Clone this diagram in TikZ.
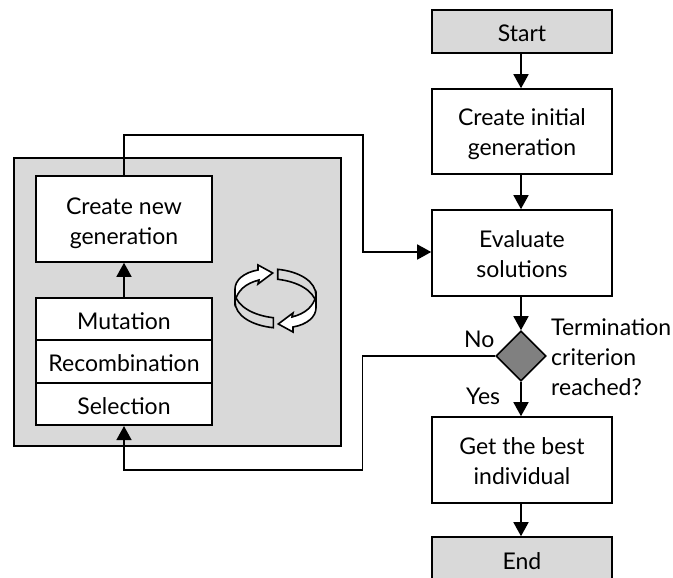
\documentclass[tikz,border=0pt]{standalone}
\usepackage{fontspec}
\setmainfont{Lato}
\usetikzlibrary{arrows.meta,shapes.geometric}
\definecolor{panel}{HTML}{D9D9D9}
\definecolor{dia}{HTML}{808080}
\newcommand\dn[2][-1.5pt]{\raisebox{#1}[\height][\depth]{#2}}
\tikzset{
 every node/.style={font=\fontsize{23}{30}\selectfont},
 boxw/.style={draw=black,line width=1.6pt,fill=white,align=center,minimum width=180pt,minimum height=86pt,inner sep=0pt},
 boxg/.style={boxw,fill=panel},
 boxs/.style={boxw,minimum width=176pt,minimum height=42.5pt},
 conn/.style={line width=1.6pt,-{Triangle[length=14pt,width=15pt]}},
 lbl/.style={inner sep=0pt,align=left},
 arrowpart/.style={draw=black,line width=1.6pt,fill=white,line join=miter},
 bandpart/.style={draw=black,line width=1.6pt,fill=panel}
}
\begin{document}
\begin{tikzpicture}[x=1pt,y=-1pt]
\useasboundingbox (0,0) rectangle (673,578);
\begin{scope}
\clip (0,0) rectangle (673,578);
\node[draw=black,line width=1.6pt,fill=panel,minimum width=327pt,minimum height=288pt,inner sep=0pt] (panelbox) at (177.5,302) {};
\node[boxg,minimum height=43pt] (start) at (522,31.5) {\dn{Start}};
\node[boxw,minimum height=85pt] (init) at (522,131.5) {\dn[-3pt]{Create initial}\\\dn[-3pt]{generation}};
\node[boxw] (eval) at (522,253) {\dn{Evaluate}\\\dn{solutions}};
\node[diamond,aspect=1,draw=black,line width=1.6pt,fill=dia,minimum width=50pt,minimum height=50pt,inner sep=0pt] (dec) at (521,356) {};
\node[boxw] (best) at (522,460) {\dn{Get the best}\\\dn{individual}};
\node[boxg,minimum height=82pt] (end) at (522,578) {};
\node[boxw,minimum width=176pt] (new) at (124,219) {\dn[-4.5pt]{Create new}\\\dn[-4.5pt]{generation}};
\node[boxs] (mut) at (124,319) {\dn[-2pt]{Mutation}};
\node[boxs] (rec) at (124,361.5) {\dn{Recombination}};
\node[boxs] (sel) at (124,404) {\dn[-2pt]{Selection}};
\end{scope}
\node[inner sep=0pt] (endtext) at (522,561) {End};
\coordinate (upR) at (363,135);
\coordinate (upT) at (124,135);
\coordinate (upD) at (363,252);
\coordinate (loR) at (362.5,356);
\coordinate (loD) at (362.5,470);
\coordinate (loL) at (124,470);
\draw[conn] (start.south -| dec) -- (init.north -| dec);
\draw[conn] (init.south -| dec) -- (eval.north -| dec);
\draw[conn] (eval.south -| dec) -- (dec.north);
\draw[conn] (dec.south) -- (best.north -| dec);
\draw[conn] (best.south -| dec) -- (end.north -| dec);
\draw[conn] (mut.north) -- (new.south);
\draw[conn] (new.north) -- (upT) -- (upR) -- (upD) -- (eval.west |- upD);
\draw[conn] (dec.west) -- (loR) -- (loD) -- (loL) -- (sel.south);
\node[lbl,anchor=west] (no) at (464,339) {No};
\node[lbl,anchor=west] (yes) at (466,396) {Yes};
\node[lbl,anchor=north west,align=left] (term) at (551,318) {Termination\\criterion\\reached?};
% cycle symbol
\foreach \r in {0,180}{
\begin{scope}[shift={(275.5,298.5)},rotate=\r]
\draw[bandpart] (2.2,-29.2) .. controls (24,-27) and (40.5,-17) .. (40.5,-3) -- (40.5,4) .. controls (38,-8) and (22,-17) .. (2.2,-19.2) -- cycle;
\draw[arrowpart] (40.5,-3) -- (40.5,9.5) .. controls (40.5,18) and (32,26) .. (17.5,28.5) -- (17.5,33.5) -- (2.8,25.5) -- (17.5,14.5) -- (16.5,18.5) .. controls (30,15) and (38,8) .. (40.5,-3) -- cycle;
\end{scope}
}
\end{tikzpicture}
\end{document}
